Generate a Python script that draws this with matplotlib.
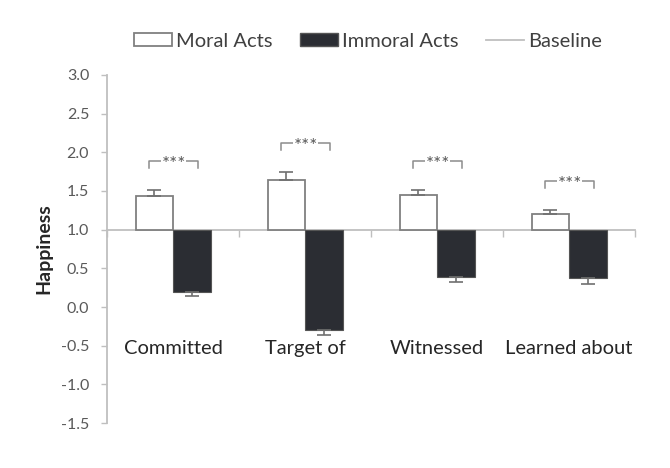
import matplotlib
matplotlib.use("Agg")
import matplotlib.pyplot as plt
from matplotlib.patches import Patch
from matplotlib.lines import Line2D
import numpy as np

# === Data ===
categories = ["Committed", "Target of", "Witnessed", "Learned about"]
moral = [1.43, 1.64, 1.45, 1.20]
moral_err = [0.08, 0.10, 0.06, 0.05]
immoral = [0.20, -0.30, 0.39, 0.37]
immoral_err = [0.06, 0.06, 0.07, 0.07]
baseline = 1.0
sig_labels = ["***", "***", "***", "***"]

plt.rcParams['font.family'] = ['Lato', 'DejaVu Sans']

axis_grey = '#bfbfbf'
text_grey = '#595959'
dark = '#2b2d33'

fig = plt.figure(figsize=(6.7, 4.68), dpi=100)
ax = fig.add_axes([0.160, 0.096, 0.788, 0.744])

x = np.arange(len(categories))
w = 0.284

# bars hang from the baseline
ax.bar(x - w / 2, np.array(moral) - baseline, w, bottom=baseline,
       color='white', edgecolor='#808080', linewidth=1.3, zorder=3)
ax.bar(x + w / 2, np.array(immoral) - baseline, w, bottom=baseline,
       color=dark, edgecolor='#555555', linewidth=0.8, zorder=3)

# one-sided error bars
ax.errorbar(x - w / 2, moral, yerr=[np.zeros(4), moral_err], fmt='none',
            ecolor='#707070', elinewidth=1.2, capsize=5, capthick=1.2, zorder=4)
ax.errorbar(x + w / 2, immoral, yerr=[immoral_err, np.zeros(4)], fmt='none',
            ecolor='#707070', elinewidth=1.2, capsize=5, capthick=1.2, zorder=4)

# significance brackets
for i, lab in enumerate(sig_labels):
    top = moral[i] + moral_err[i] + 0.38
    xl, xr = x[i] - 0.18, x[i] + 0.19
    ax.plot([xl, xl, xr, xr], [top - 0.09, top, top, top - 0.09],
            color='#8c8c8c', lw=1.1, zorder=3)
    ax.text(x[i] + 0.005, top - 0.05, lab, ha='center', va='center', fontsize=13.5,
            color=text_grey, zorder=5,
            bbox=dict(facecolor='white', edgecolor='none', pad=0.2))

# category labels inside the plot
for i, c in enumerate(categories):
    ax.text(x[i], -0.53, c, ha='center', va='center', fontsize=14.5,
            color='#262626', zorder=6)

# axes styling
ax.set_xlim(-0.5, len(categories) - 0.5)
ax.set_ylim(-1.5, 3.0)
ax.set_yticks(np.arange(-1.5, 3.01, 0.5))
ax.set_yticklabels([f"{v:.1f}" for v in np.arange(-1.5, 3.01, 0.5)])
ax.set_xticks(np.arange(-0.5, len(categories), 1.0))
ax.set_xticklabels([])
ax.spines['top'].set_visible(False)
ax.spines['right'].set_visible(False)
ax.spines['bottom'].set_position(('data', baseline))
ax.spines['bottom'].set_color(axis_grey)
ax.spines['bottom'].set_linewidth(1.3)
ax.spines['left'].set_color(axis_grey)
ax.spines['left'].set_linewidth(1.3)
ax.tick_params(axis='y', colors=axis_grey, length=4, width=1.0, pad=9,
               labelcolor=text_grey, labelsize=11.5)
ax.tick_params(axis='x', colors=axis_grey, length=5, width=1.0, direction='out')
ax.set_ylabel('Happiness', fontsize=14, fontweight='bold', color='#262626', labelpad=6)

handles = [Patch(facecolor='white', edgecolor='#808080', linewidth=1.3),
           Patch(facecolor=dark, edgecolor='#555555'),
           Line2D([0], [0], color=axis_grey, lw=1.3)]
fig.legend(handles, ['Moral Acts', 'Immoral Acts', 'Baseline'], loc='center',
           bbox_to_anchor=(0.549, 0.912), ncol=3, frameon=False, fontsize=14.5,
           handlelength=1.9, handleheight=0.6, handletextpad=0.2, columnspacing=1.35,
           labelcolor='#404040')

fig.savefig('out.png', dpi=100, facecolor='white')
